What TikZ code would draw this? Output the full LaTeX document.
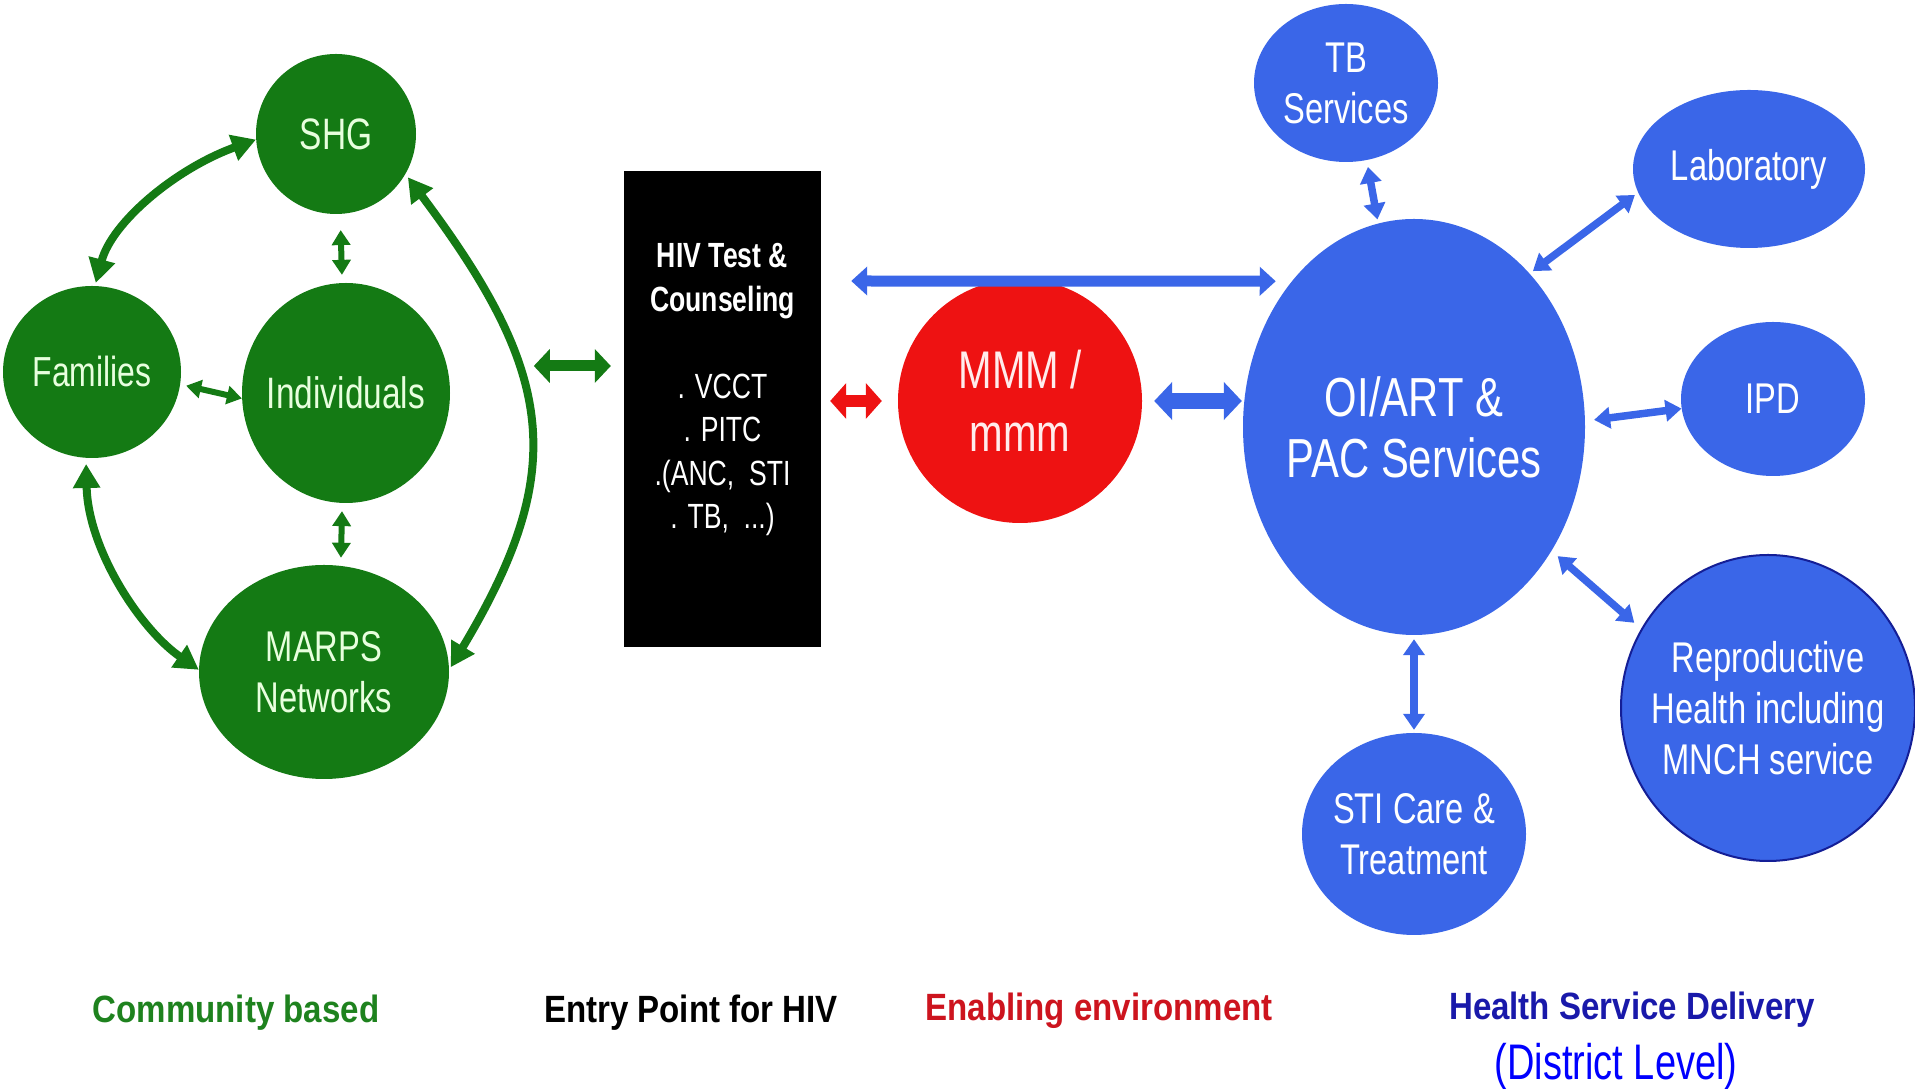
\documentclass[tikz,border=0pt]{standalone}
\usepackage{fontspec}
\setmainfont{Liberation Sans}
\newfontfamily\nodesf[FakeStretch=0.76]{Liberation Sans}
\newfontfamily\capsf[FakeStretch=0.87]{Liberation Sans}
\usetikzlibrary{shapes.geometric,arrows.meta}

\definecolor{cgreen}{RGB}{20,122,20}
\definecolor{cgreentxt}{RGB}{232,255,222}
\definecolor{cred}{RGB}{238,18,18}
\definecolor{credtxt}{RGB}{255,236,236}
\definecolor{cblue}{RGB}{58,102,232}
\definecolor{cbluedark}{RGB}{20,30,150}
\definecolor{lgreen}{RGB}{30,130,30}
\definecolor{lred}{RGB}{205,20,30}
\definecolor{lblue}{RGB}{25,25,170}
\definecolor{lbright}{RGB}{0,0,255}

\tikzset{
  blob/.style={ellipse, inner sep=-40pt, align=center},
  gblob/.style={blob, fill=cgreen, text=cgreentxt},
  bblob/.style={blob, fill=cblue, text=white},
  fa/.style={font=\nodesf\fontsize{42}{51}\selectfont},
  fb/.style={font=\nodesf\fontsize{44}{51}\selectfont},
  fc/.style={font=\nodesf\fontsize{43}{51}\selectfont},
  fbig/.style={font=\nodesf\fontsize{55}{61}\selectfont},
  fmmm/.style={font=\nodesf\fontsize{53}{63}\selectfont},
  caption/.style={anchor=base, font=\capsf\bfseries\fontsize{38}{44}\selectfont},
  ring/.style={draw=cgreen, line width=8pt,
    {Triangle[length=24pt,width=26pt]}-{Triangle[length=24pt,width=26pt]}},
  gshort/.style={draw=cgreen, line width=6pt,
    {Triangle[length=15pt,width=18pt]}-{Triangle[length=15pt,width=18pt]}},
  gblock/.style={draw=cgreen, line width=11pt,
    {Triangle[length=16pt,width=33pt]}-{Triangle[length=16pt,width=33pt]}},
  rblock/.style={draw=cred, line width=12pt,
    {Triangle[length=16pt,width=35pt]}-{Triangle[length=16pt,width=35pt]}},
  bblock/.style={draw=cblue, line width=16pt,
    {Triangle[length=18pt,width=37pt]}-{Triangle[length=18pt,width=37pt]}},
  blong/.style={draw=cblue, line width=11pt,
    {Triangle[length=16pt,width=28pt]}-{Triangle[length=16pt,width=28pt]}},
  bshort/.style={draw=cblue, line width=7.5pt,
    {Triangle[length=16pt,width=21pt]}-{Triangle[length=16pt,width=21pt]}},
}

\begin{document}
\begin{tikzpicture}[x=1pt,y=1pt]
\useasboundingbox (0,0) rectangle (1915,1089);
\fill[white] (0,0) rectangle (1915,1089);

% community ring
\node[gblob, fb, minimum width=160pt, minimum height=160pt] (shg) at (336,955) {SHG};
\node[gblob, fa, minimum width=178pt, minimum height=172pt] (fam) at (92,717) {Families};
\node[gblob, fb, minimum width=208pt, minimum height=220pt] (ind) at (346,696) {Individuals};
\node[gblob, fc, minimum width=250pt, minimum height=214pt] (marps) at (324,417) {MARPS\\Networks};

% entry point box
\node[rectangle, fill=black, inner sep=0pt, minimum width=197pt, minimum height=476pt,
  label={[yshift=19pt, text=white, align=center, font=\nodesf\fontsize{35}{43.5}\selectfont]center:\textbf{HIV Test \&}\\\textbf{Counseling}\\[43.5pt]. VCCT\\. PITC\\.(ANC,~ STI\\. TB,~ ...)}]
  (hiv) at (722.5,680) {};

% enabling environment
\node[blob, fmmm, fill=cred, text=credtxt, minimum width=244pt, minimum height=244pt] (mmm) at (1020,688) {MMM /\\mmm};

% health services
\node[bblob, fbig, minimum width=342pt, minimum height=416pt] (oi) at (1414,662) {OI/ART \&\\PAC Services};
\node[bblob, fc, minimum width=184pt, minimum height=158pt] (tb) at (1346,1006) {TB\\Services};
\node[bblob, fc, minimum width=232pt, minimum height=158pt] (lab) at (1749,920) {Laboratory};
\node[bblob, fc, minimum width=184pt, minimum height=154pt] (ipd) at (1773,690) {IPD};
\node[bblob, fc, draw=cbluedark, line width=2pt, minimum width=294pt, minimum height=306pt] (repro) at (1768,381) {Reproductive\\Health including\\MNCH service};
\node[bblob, fc, minimum width=224pt, minimum height=202pt] (sti) at (1414,255) {STI Care \&\\Treatment};

% ring connectors
\draw[ring, shorten >=3pt] (shg.184) .. controls +(-80,-29) and +(17,64) .. (fam.88);
\draw[ring, shorten <=4pt, shorten >=3pt] (shg.-30) .. controls +(150,-200) and +(120,200) .. (marps.1);
\draw[ring, shorten <=6pt] (fam.266) .. controls +(2,-91) and +(-59,41) .. (marps.179);
\draw[gshort, shorten <=16pt, shorten >=8pt] (shg.-87) -- (ind.92);
\draw[gshort, shorten <=8pt, shorten >=8pt] (ind.268) -- (marps.81);
\draw[gshort, shorten <=6pt] (fam.-8) -- (ind.183);

% links between the groups
\draw[gblock, shorten >=13pt] ([xshift=-90pt,yshift=43pt]hiv.west) -- ([yshift=43pt]hiv.west);
\draw[rblock, shorten <=9pt, shorten >=16pt] (hiv.east |- mmm.west) -- (mmm.west);
\draw[bblock, shorten <=12pt, shorten >=1pt] (mmm.east) -- (mmm.east -| oi.west);
\draw[blong, shorten >=16pt] ([xshift=30pt,yshift=128pt]hiv.east) -- (oi.130);

% service links
\draw[bshort, shorten <=7pt, shorten >=4pt] (tb.-75) -- (oi.100);
\draw[bshort, shorten <=4pt, shorten >=4pt] (oi.53) -- (lab.192);
\draw[bshort, shorten <=9pt] (oi.2.5) -- (ipd.186);
\draw[bshort, shorten <=8pt, shorten >=9pt] (oi.-42) -- (repro.148);
\draw[bshort, shorten <=4pt, shorten >=3pt] (oi.south) -- (sti.north);

% captions
\node[caption, text=lgreen] (capcomm) at (236,66) {Community based};
\node[caption, text=black] (capentry) at (691,66) {Entry Point for HIV};
\node[caption, text=lred] (capenv) at (1099,68) {Enabling environment};
\node[caption, text=lblue] (caphealth) at (1632,69) {Health Service Delivery};
\node[anchor=base, text=lbright, font=\nodesf\fontsize{50}{56}\selectfont] (capdist) at (1616,9) {(District Level)};
\end{tikzpicture}
\end{document}
